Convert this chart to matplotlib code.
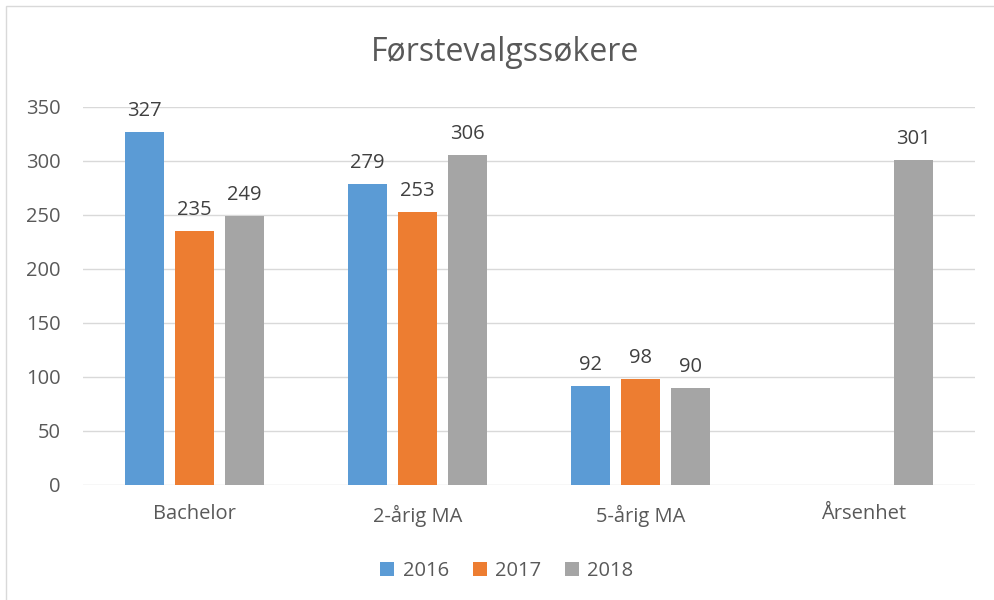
"""Førstevalgssøkere per programme type, 2016-2018."""

import matplotlib.pyplot as plt
import numpy as np
from matplotlib.patches import Rectangle

categories = ["Bachelor", "2-årig MA", "5-årig MA", "Årsenhet"]
years = ["2016", "2017", "2018"]
values_2016 = [327, 279, 92, np.nan]
values_2017 = [235, 253, 98, np.nan]
values_2018 = [249, 306, 90, 301]
yticks = [0, 50, 100, 150, 200, 250, 300, 350]

colors = ["#5B9BD5", "#ED7D31", "#A5A5A5"]
text_color = "#595959"

plt.rcParams["font.family"] = ["Open Sans", "DejaVu Sans"]

fig = plt.figure(figsize=(9.94, 6.0), dpi=100)
fig.patches.append(
    Rectangle((0.006, -0.01), 1.0, 1.0, transform=fig.transFigure,
              fill=False, edgecolor="#D9D9D9", linewidth=1)
)
ax = fig.add_axes([0.0835, 0.1917, 0.897, 0.63])

x = np.arange(len(categories))
width = 0.175
pitch = 0.224
series = [values_2016, values_2017, values_2018]
for i, (vals, color, year) in enumerate(zip(series, colors, years)):
    pos = x + (i - 1) * pitch
    ax.bar(pos, vals, width=width, color=color, label=year, zorder=3)
    for xp, v in zip(pos, vals):
        if not np.isnan(v):
            ax.text(xp, v + 10, f"{v:.0f}", ha="center", va="bottom",
                    fontsize=14.5, color="#404040")

ax.set_xlim(-0.5, len(categories) - 0.5)
ax.set_ylim(0, 350)
ax.set_yticks(yticks)
ax.set_xticks(x)
ax.set_xticklabels(categories)
ax.tick_params(axis="both", length=0, labelsize=14.5, labelcolor=text_color)
ax.tick_params(axis="x", pad=14)
ax.tick_params(axis="y", pad=16)
ax.grid(axis="y", color="#D9D9D9", linewidth=1, zorder=0)
for spine in ax.spines.values():
    spine.set_visible(False)

fig.text(0.508, 0.912, "Førstevalgssøkere", ha="center", va="center",
         fontsize=23, color=text_color)

fig.legend(loc="center", bbox_to_anchor=(0.51, 0.048), ncol=3, frameon=False,
           fontsize=14.5, handlelength=0.7, handleheight=0.7, handletextpad=0.4,
           columnspacing=1.2, labelcolor=text_color)

fig.savefig("out.png", dpi=100)
